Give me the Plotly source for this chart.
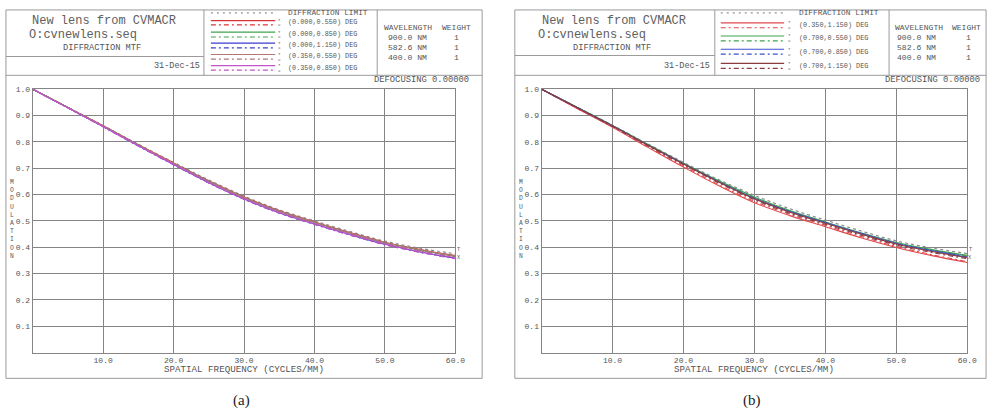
import plotly.graph_objects as go

W, H = 1005, 413

# ---------------- data ----------------
freq = [0, 5, 10, 15, 20, 25, 30, 35, 40, 45, 50, 55, 60]
x_ticks = [10, 20, 30, 40, 50, 60]
x_tick_labels = ["10.0", "20.0", "30.0", "40.0", "50.0", "60.0"]
y_ticks = [0.1, 0.2, 0.3, 0.4, 0.5, 0.6, 0.7, 0.8, 0.9, 1.0]
y_tick_labels = ["0.1", "0.2", "0.3", "0.4", "0.5", "0.6", "0.7", "0.8", "0.9", "1.0"]

wavelengths = ["900.0 NM", "582.6 NM", "400.0 NM"]
weights = ["1", "1", "1"]

# panel (a)
dl_a = [1.000, 0.931, 0.862, 0.791, 0.722, 0.655, 0.594, 0.542, 0.500, 0.460, 0.423, 0.396, 0.375]
fields_a = ["(0.000,0.550) DEG", "(0.000,0.850) DEG", "(0.000,1.150) DEG",
            "(0.350,0.550) DEG", "(0.350,0.850) DEG"]
a_t = [
    [1.000, 0.930, 0.861, 0.789, 0.720, 0.652, 0.591, 0.539, 0.496, 0.456, 0.419, 0.391, 0.368],
    [1.000, 0.930, 0.860, 0.788, 0.718, 0.650, 0.589, 0.537, 0.494, 0.454, 0.417, 0.389, 0.365],
    [1.000, 0.929, 0.858, 0.785, 0.714, 0.645, 0.583, 0.531, 0.488, 0.448, 0.411, 0.382, 0.358],
    [1.000, 0.930, 0.860, 0.788, 0.719, 0.651, 0.590, 0.538, 0.495, 0.455, 0.418, 0.390, 0.367],
    [1.000, 0.929, 0.858, 0.786, 0.715, 0.646, 0.584, 0.532, 0.489, 0.449, 0.412, 0.383, 0.360],
]
a_x = [
    [1.000, 0.930, 0.860, 0.788, 0.719, 0.651, 0.590, 0.538, 0.495, 0.455, 0.418, 0.390, 0.366],
    [1.000, 0.930, 0.859, 0.787, 0.717, 0.649, 0.588, 0.536, 0.493, 0.453, 0.416, 0.387, 0.363],
    [1.000, 0.929, 0.857, 0.784, 0.713, 0.644, 0.582, 0.530, 0.487, 0.447, 0.410, 0.381, 0.357],
    [1.000, 0.930, 0.859, 0.786, 0.716, 0.648, 0.587, 0.535, 0.492, 0.452, 0.415, 0.386, 0.362],
    [1.000, 0.929, 0.857, 0.784, 0.713, 0.644, 0.582, 0.529, 0.486, 0.446, 0.409, 0.380, 0.356],
]
colors_a = ["#d8343a", "#3fa34d", "#3c3cd0", "#b07878", "#c454c8"]

# panel (b)
dl_b = [1.000, 0.932, 0.863, 0.792, 0.722, 0.656, 0.597, 0.546, 0.503, 0.462, 0.424, 0.397, 0.376]
fields_b = ["(0.350,1.150) DEG", "(0.700,0.550) DEG", "(0.700,0.850) DEG", "(0.700,1.150) DEG"]
b_t = [
    [1.000, 0.927, 0.855, 0.779, 0.704, 0.633, 0.569, 0.520, 0.478, 0.436, 0.399, 0.368, 0.342],
    [1.000, 0.931, 0.862, 0.790, 0.719, 0.652, 0.591, 0.539, 0.496, 0.455, 0.418, 0.391, 0.369],
    [1.000, 0.930, 0.861, 0.788, 0.717, 0.649, 0.586, 0.536, 0.494, 0.453, 0.415, 0.387, 0.363],
    [1.000, 0.930, 0.860, 0.787, 0.716, 0.647, 0.584, 0.533, 0.491, 0.450, 0.412, 0.384, 0.360],
]
b_x = [
    [1.000, 0.928, 0.857, 0.782, 0.708, 0.637, 0.574, 0.525, 0.483, 0.441, 0.403, 0.372, 0.345],
    [1.000, 0.931, 0.861, 0.789, 0.718, 0.650, 0.589, 0.537, 0.494, 0.453, 0.416, 0.389, 0.366],
    [1.000, 0.930, 0.860, 0.787, 0.716, 0.647, 0.584, 0.534, 0.492, 0.451, 0.413, 0.385, 0.361],
    [1.000, 0.929, 0.859, 0.785, 0.713, 0.644, 0.580, 0.529, 0.487, 0.446, 0.408, 0.380, 0.356],
]
colors_b = ["#e0484c", "#3fa34d", "#3c50d0", "#8c3c3c"]

# ---------------- helpers ----------------
MONO = "'Liberation Mono', 'DejaVu Sans Mono', 'Courier New', monospace"
TXT = "#555555"
FRAME = "#9a9a9a"
GRID = "#858585"
DASHDOT = "5px,3px,2px,3px"


def X(px):
    return px / W


def Y(py):
    return 1 - py / H


shapes = []
annotations = []


def hline(x0, x1, y, color=FRAME, width=1, dash=None):
    line = dict(color=color, width=width)
    if dash:
        line["dash"] = dash
    shapes.append(dict(type="line", xref="paper", yref="paper",
                       x0=X(x0), x1=X(x1), y0=Y(y), y1=Y(y), line=line))


def vline(x, y0, y1, color=FRAME, width=1):
    shapes.append(dict(type="line", xref="paper", yref="paper",
                       x0=X(x), x1=X(x), y0=Y(y0), y1=Y(y1),
                       line=dict(color=color, width=width)))


def txt(px, py, text, size, xanchor="left", color=TXT, family=MONO):
    annotations.append(dict(xref="paper", yref="paper", x=X(px), y=Y(py),
                            text=text, showarrow=False, xanchor=xanchor,
                            yanchor="middle", borderpad=0,
                            font=dict(family=family, size=size, color=color)))


fig = go.Figure()


def add_panel(P, dl, fields, tvals, xvals, colors, xa, ya, caption):
    xref = "x" if xa == 1 else "x%d" % xa
    yref = "y" if ya == 1 else "y%d" % ya
    # curves
    fig.add_trace(go.Scatter(x=freq, y=dl, mode="lines", xaxis=xref, yaxis=yref,
                             line=dict(color="#8a8a8a", width=1.2, dash="dot", shape="spline"),
                             showlegend=False, hoverinfo="skip"))
    for i in range(len(fields)):
        fig.add_trace(go.Scatter(x=freq, y=xvals[i], mode="lines", xaxis=xref, yaxis=yref,
                                 line=dict(color=colors[i], width=1.1, dash=DASHDOT, shape="spline"),
                                 showlegend=False, hoverinfo="skip"))
        fig.add_trace(go.Scatter(x=freq, y=tvals[i], mode="lines", xaxis=xref, yaxis=yref,
                                 line=dict(color=colors[i], width=1.1, shape="spline"),
                                 showlegend=False, hoverinfo="skip"))

    L, T, R, B = P["box"]
    # outer frame and header
    shapes.append(dict(type="rect", xref="paper", yref="paper",
                       x0=X(L), x1=X(R), y0=Y(B), y1=Y(T),
                       line=dict(color=FRAME, width=1)))
    hline(L, R, P["hdr"])
    vline(P["c1"], T, P["hdr"])
    vline(P["c2"], T, P["hdr"])
    hline(L, P["c1"], P["sub"])

    # left header text
    txt(P["title_x"], 17, "New lens from CVMACR", 12, color="#606060")
    txt(P["file_x"], 31, "O:cvnewlens.seq", 12, color="#606060")
    txt(P["mtf_x"], 44, "DIFFRACTION MTF", 8.7, "center")
    txt(P["date_x"], 63, "31-Dec-15", 8.5, "right")

    # legend column
    lx0, lx1 = P["leg_x"]
    hline(lx0, lx1, 9, color="#777777", width=1, dash="2px,4px")
    txt(P["leg_txt"], 9, "DIFFRACTION LIMIT", 7.8)
    for i, f in enumerate(fields):
        ys, yd, yt = P["leg_y"][i]
        hline(lx0, lx1, ys, color=colors[i], width=1.2)
        hline(lx0, lx1, yd, color=colors[i], width=1.2, dash=DASHDOT)
        txt(P["tx_x"], ys - 0.5, "T", 4.2, "center")
        txt(P["tx_x"], yd + 0.5, "X", 4.2, "center")
        txt(P["leg_txt"], yt, f, 6.8)

    # wavelength column
    txt(P["wl_x"], 24, "WAVELENGTH", 8)
    txt(P["wt_x"], 24, "WEIGHT", 8)
    for i, (w, g) in enumerate(zip(wavelengths, weights)):
        yy = P["wl_y"][i]
        txt(P["wv_x"], yy, w, 8.1)
        txt(P["one_x"], yy, g, 8.1, "center")

    # defocusing
    txt(P["def_x"], 77, "DEFOCUSING 0.00000", 8.8, "right")

    # vertical MODULATION
    annotations.append(dict(xref="paper", yref="paper", x=X(P["mod_x"]), y=Y(218),
                            text="<br>".join(list("MODULATION")), showarrow=False,
                            xanchor="center", yanchor="middle", borderpad=0,
                            font=dict(family=MONO, size=6.3, color=TXT)))
    # x axis title
    txt(P["xt_x"], 369, "SPATIAL FREQUENCY (CYCLES/MM)", 9.2, "center")
    # T / X end labels
    txt(P["end_x"], 248, "T", 5.2, "center")
    txt(P["end_x"], 256.5, "X", 5.2, "center")
    # caption
    txt(P["cap_x"], 400, caption, 15, "center", color="#222222", family="'Liberation Serif', serif")


PA = dict(box=(6, 6, 487, 378), hdr=72, c1=206, c2=381, sub=53,
          title_x=31, file_x=28, mtf_x=103, date_x=203,
          leg_x=(213, 278), leg_txt=290, tx_x=282,
          leg_y=[(16.7, 21, 18.5), (28.3, 33.3, 30), (39.5, 44.3, 41.7),
                 (51, 55.7, 52.8), (62.3, 66.7, 64.2)],
          wl_x=387, wt_x=445, wv_x=391, one_x=461, wl_y=[34, 44, 54],
          def_x=475, mod_x=12, xt_x=246, end_x=463.5, cap_x=244)
PB = dict(box=(520, 6, 996, 378), hdr=72, c1=722, c2=898, sub=52,
          title_x=546, file_x=542, mtf_x=618, date_x=718,
          leg_x=(728, 792), leg_txt=806, tx_x=797,
          leg_y=[(19, 24, 21.5), (32.3, 37.3, 34.7), (45.7, 50.7, 48), (60, 65, 62.3)],
          wl_x=903, wt_x=961, wv_x=905, one_x=978, wl_y=[33.5, 43.5, 54],
          def_x=991, mod_x=526, xt_x=762, end_x=980, cap_x=760)

add_panel(PA, dl_a, fields_a, a_t, a_x, colors_a, 1, 1, "(a)")
add_panel(PB, dl_b, fields_b, b_t, b_x, colors_b, 2, 2, "(b)")

axis_common = dict(range=[0, 60], tickvals=x_ticks, ticktext=x_tick_labels,
                   showgrid=True, gridcolor=GRID, gridwidth=1, zeroline=False,
                   showline=True, linecolor=GRID, linewidth=1, mirror=True,
                   ticks="", tickfont=dict(family=MONO, size=8, color=TXT))
yaxis_common = dict(range=[0, 1], tickvals=y_ticks, ticktext=y_tick_labels,
                    showgrid=True, gridcolor=GRID, gridwidth=1, zeroline=False,
                    showline=True, linecolor=GRID, linewidth=1, mirror=True,
                    ticks="", tickfont=dict(family=MONO, size=8, color=TXT))

fig.update_layout(
    width=W, height=H,
    margin=dict(l=0, r=0, t=0, b=0),
    paper_bgcolor="white", plot_bgcolor="white",
    showlegend=False,
    font=dict(family=MONO),
    xaxis=dict(domain=[X(33), X(460)], anchor="y", **axis_common),
    yaxis=dict(domain=[Y(352), Y(86)], anchor="x", **yaxis_common),
    xaxis2=dict(domain=[X(547), X(977)], anchor="y2", **axis_common),
    yaxis2=dict(domain=[Y(352), Y(86)], anchor="x2", **yaxis_common),
    shapes=shapes,
    annotations=annotations,
)

fig.write_html(
    "out.html",
    config={"displayModeBar": False},
    post_script="document.body.style.margin='0';document.body.style.overflow='hidden';",
)
